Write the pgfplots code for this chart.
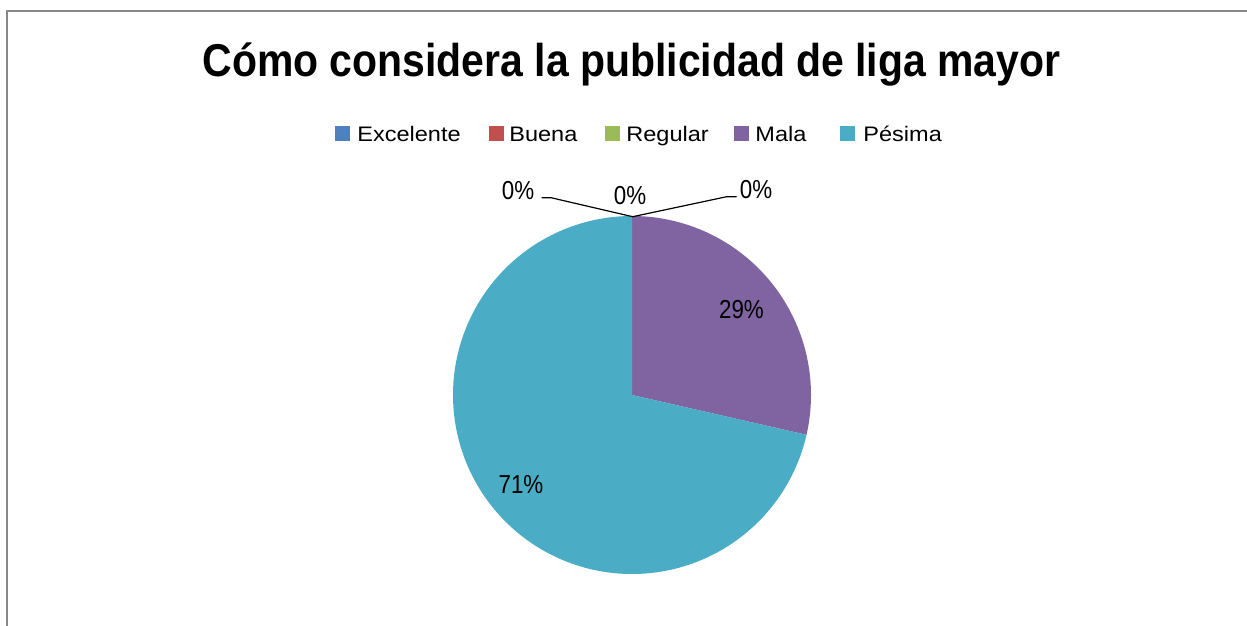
\documentclass[border=0pt]{standalone}
\usepackage{pgfplots}
\pgfplotsset{compat=1.18}
\usepackage{pgfplotstable}
\usepackage{fontspec}
\setmainfont{Liberation Sans}
\newfontfamily\titlefont[FakeStretch=0.89]{Liberation Sans}
\newfontfamily\legfont[FakeStretch=1.12]{Liberation Sans}
\newfontfamily\labfont[FakeStretch=0.86]{Liberation Sans}
\definecolor{cExc}{HTML}{4F81BD}
\definecolor{cBue}{HTML}{C0504D}
\definecolor{cReg}{HTML}{9BBB59}
\definecolor{cMal}{HTML}{8064A2}
\definecolor{cPes}{HTML}{4BACC6}
\definecolor{frameg}{HTML}{888888}

\pgfplotstableread{
cat value
Excelente 0
Buena 0
Regular 0
Mala 2
Pesima 5
}\piedata
\pgfplotstablegetelem{3}{value}\of\piedata \let\vMal\pgfplotsretval%
\pgfplotstablegetelem{4}{value}\of\piedata \let\vPes\pgfplotsretval%
\pgfmathsetmacro\vTot{\vMal+\vPes}%
\pgfmathsetmacro\aMal{90-360*\vMal/\vTot}%

\begin{document}%
\begin{tikzpicture}
\path[use as bounding box] (0pt,0pt) rectangle (623.5pt,-313pt);
\begin{scope}[x=0.5pt,y=-0.5pt]
\fill[white] (0,0) rectangle (1247,626);
\draw[line width=0.7pt, color=frameg] (7,626) -- (7,11) -- (1247,11);
\coordinate (C) at (632,395);
\end{scope}
\begin{axis}[at={(C)}, anchor=origin, x=89.5pt, y=89.5pt,
  xmin=-1.1, xmax=1.1, ymin=-1.1, ymax=1.1, hide axis, clip=false]
\addplot[fill=cMal, draw=none, domain=\aMal:90, samples=121, variable=\t]
  ({cos(\t)},{sin(\t)}) -- (axis cs:0,0) -- cycle;
\addplot[fill=cPes, draw=none, domain=-270:\aMal, samples=241, variable=\t]
  ({cos(\t)},{sin(\t)}) -- (axis cs:0,0) -- cycle;
\end{axis}
\begin{scope}[x=0.5pt,y=-0.5pt]
\node[anchor=base, inner sep=0pt] at (631.5,77) {\titlefont\bfseries\fontsize{23pt}{27pt}\selectfont Cómo considera la publicidad de liga mayor};
% legend
\foreach \xs/\xt/\col/\txt in {335/357/cExc/Excelente, 489/509/cBue/Buena, 605/626/cReg/Regular, 734/755/cMal/Mala, 840/863/cPes/Pésima}{
  \fill[\col] (\xs,126) rectangle ++(15,15);
  \node[anchor=base west, inner sep=0pt] at (\xt,141) {\legfont\fontsize{10.5pt}{12pt}\selectfont \txt};
}
% data labels
\begin{scope}[every node/.style={anchor=base, inner sep=0pt, font=\labfont\fontsize{13pt}{15pt}\selectfont}]
\node at (741.5,318.3) {29\%};
\node at (521,493.5) {71\%};
\node at (518,199.7) {0\%};
\node at (630,204.3) {0\%};
\node at (756,198.3) {0\%};
\end{scope}
\draw[line width=0.6pt] (541.7,197.7) -- (551,197.7) -- (632.7,216.7) -- (726.7,196.7) -- (736.7,196.7);
\end{scope}
\end{tikzpicture}%
\end{document}
